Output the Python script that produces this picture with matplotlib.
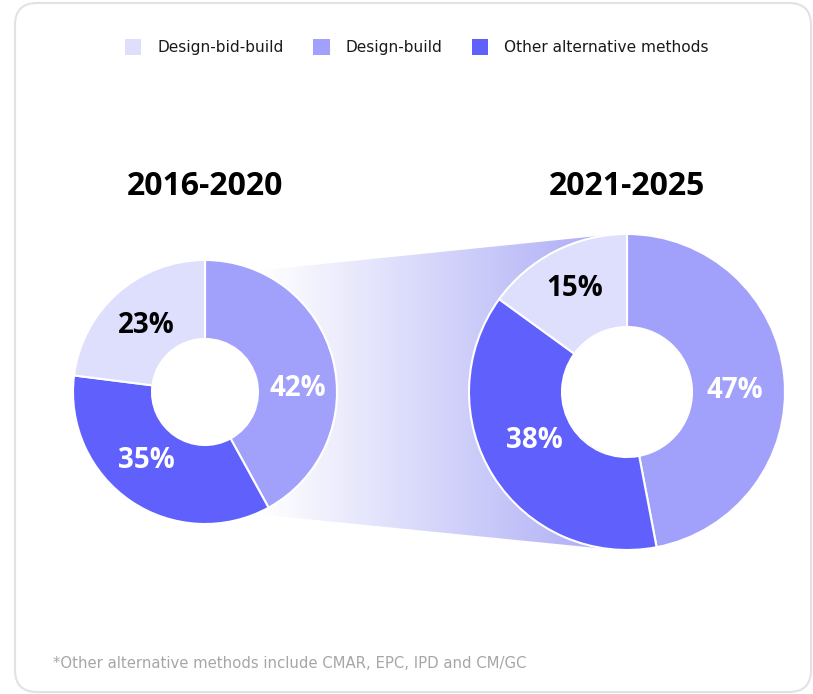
import numpy as np
import matplotlib
matplotlib.use("Agg")
import matplotlib.pyplot as plt
from matplotlib.patches import Patch, FancyBboxPatch, Polygon, Circle
from matplotlib.colors import LinearSegmentedColormap

# data
methods = ["Design-bid-build", "Design-build", "Other alternative methods"]
colors = ["#dedefd", "#a1a1fc", "#6060fd"]
periods = ["2016-2020", "2021-2025"]
share_2016 = [23, 42, 35]
share_2021 = [15, 47, 38]
footnote = "*Other alternative methods include CMAR, EPC, IPD and CM/GC"

W, H = 813, 694
fig = plt.figure(figsize=(W / 100, H / 100), dpi=100)
ax = fig.add_axes([0, 0, 1, 1])

def fy(y):
    # pixel row (from top) -> data y
    return H - y

# card
card = FancyBboxPatch((15, fy(692)), 796, 689, boxstyle="round,pad=0,rounding_size=22",
                      fc="white", ec="#e2e2e2", lw=1.5, zorder=0)
ax.add_patch(card)

left_c = (205, 392)
right_c = (627, 392)
r_left = (132, 53)
r_right = (158, 65)

# gradient band between the two donuts
band = Polygon([(205, fy(276)), (627, fy(233)), (627, fy(551)), (205, fy(509))],
               closed=True, fc="none", ec="none")
ax.add_patch(band)
x0, x1 = left_c[0], right_c[0]
f_white = (262 - x0) / (x1 - x0)
f_full = (580 - x0) / (x1 - x0)
cmap = LinearSegmentedColormap.from_list(
    "band", [(0, "#ffffff"), (f_white, "#ffffff"), (f_full, "#b3b3f7"), (1, "#b3b3f7")])
grad = np.linspace(0, 1, 512).reshape(1, -1)
im = ax.imshow(grad, cmap=cmap, extent=[x0, x1, fy(560), fy(225)], aspect="auto", zorder=1)
im.set_clip_path(band)

# donuts: start at 12 o'clock, clockwise, Design-build first
order = [1, 2, 0]
for vals, c, (r_out, r_in) in [(share_2016, left_c, r_left), (share_2021, right_c, r_right)]:
    ax.pie([vals[i] for i in order], colors=[colors[i] for i in order],
           center=(c[0], fy(c[1])), radius=r_out, startangle=90, counterclock=False,
           wedgeprops=dict(width=r_out - r_in, edgecolor="white", linewidth=1.5))
    ax.add_patch(Circle((c[0], fy(c[1])), r_in - 0.5, fc="white", ec="none", zorder=3))

# percent labels
lab_font = ["Open Sans", "DejaVu Sans"]
label_pos_2016 = [(146, 325), (298, 388), (146, 460)]
label_pos_2021 = [(575, 288), (735, 390), (534, 440)]
for vals, pos in [(share_2016, label_pos_2016), (share_2021, label_pos_2021)]:
    for i, v in enumerate(vals):
        ax.text(pos[i][0], fy(pos[i][1]), f"{v}%", ha="center", va="center",
                fontsize=20, fontweight="bold", family=lab_font,
                color="black" if i == 0 else "white", zorder=5)

# period titles
for p, c in zip(periods, [left_c, right_c]):
    ax.text(c[0], fy(186), p, ha="center", va="center", fontsize=23,
            fontweight="bold", family=lab_font, color="black")

# legend
txt_font = ["DejaVu Sans"]
handles = [Patch(fc=col, ec="none") for col in colors]
leg = ax.legend(handles, methods, loc="center", bbox_to_anchor=(417 / W, 1 - 47 / H),
                ncol=3, frameon=False, handlelength=1.05, handleheight=1.2,
                handletextpad=1.05, columnspacing=1.9,
                prop=dict(family=txt_font, size=11.1))
for t in leg.get_texts():
    t.set_color("#1a1a1a")

# footnote
ax.text(53, fy(663), footnote, ha="left", va="center", fontsize=10.7,
        family=txt_font, color="#a6a6a6")

ax.set_xlim(0, W)
ax.set_ylim(0, H)
ax.set_aspect("equal")
ax.axis("off")

fig.savefig("out.png", dpi=100)
